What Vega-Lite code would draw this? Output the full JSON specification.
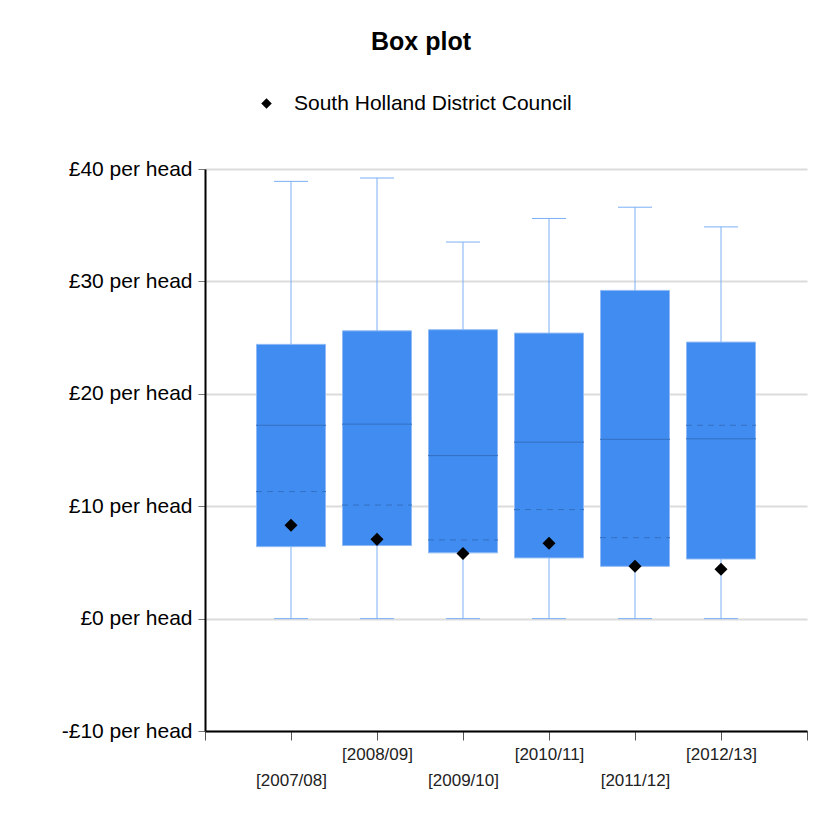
{
  "$schema": "https://vega.github.io/schema/vega-lite/v6.json",
  "autosize": {"type": "none"},
  "padding": {"left": 205, "top": 169, "right": 30, "bottom": 101},
  "width": 602,
  "height": 562,
  "background": "white",
  "title": {
    "text": "Box plot",
    "fontSize": 25,
    "fontWeight": "bold",
    "font": "Liberation Sans",
    "color": "black",
    "anchor": "middle",
    "frame": "group",
    "dx": -85,
    "offset": 38
  },
  "data": {
    "values": [
      {"idx": 1, "year": "[2007/08]", "lo": 0, "q1": 6.4, "median": 17.2, "mean": 11.3, "q3": 24.4, "hi": 38.9, "value": 8.3, "council": "South Holland District Council"},
      {"idx": 2, "year": "[2008/09]", "lo": 0, "q1": 6.5, "median": 17.3, "mean": 10.1, "q3": 25.6, "hi": 39.2, "value": 7.05, "council": "South Holland District Council"},
      {"idx": 3, "year": "[2009/10]", "lo": 0, "q1": 5.85, "median": 14.5, "mean": 7.0, "q3": 25.7, "hi": 33.5, "value": 5.8, "council": "South Holland District Council"},
      {"idx": 4, "year": "[2010/11]", "lo": 0, "q1": 5.4, "median": 15.7, "mean": 9.7, "q3": 25.4, "hi": 35.6, "value": 6.7, "council": "South Holland District Council"},
      {"idx": 5, "year": "[2011/12]", "lo": 0, "q1": 4.65, "median": 15.95, "mean": 7.2, "q3": 29.2, "hi": 36.6, "value": 4.65, "council": "South Holland District Council"},
      {"idx": 6, "year": "[2012/13]", "lo": 0, "q1": 5.3, "median": 16.0, "mean": 17.2, "q3": 24.6, "hi": 34.85, "value": 4.4, "council": "South Holland District Council"}
    ]
  },
  "encoding": {
    "x": {
      "field": "idx",
      "type": "quantitative",
      "title": null,
      "scale": {"domain": [0, 7], "nice": false, "zero": false, "padding": 0},
      "axis": {
        "values": [0, 1, 2, 3, 4, 5, 6, 7],
        "grid": false,
        "domainColor": "black",
        "domainWidth": 2,
        "tickColor": "#555555",
        "tickSize": 9,
        "labelFont": "Liberation Sans",
        "labelFontSize": 17,
        "labelColor": "#222222",
        "labelBaseline": "top",
        "labelFlush": false,
        "labelOverlap": false,
        "labelPadding": {"condition": {"test": "datum.value % 2 == 1", "value": 32}, "value": 6},
        "labelExpr": "['', '[2007/08]', '[2008/09]', '[2009/10]', '[2010/11]', '[2011/12]', '[2012/13]', ''][datum.value]"
      }
    }
  },
  "layer": [
    {
      "mark": {"type": "rule", "color": "#7AB0F5", "strokeWidth": 1},
      "encoding": {
        "y": {
          "field": "lo",
          "type": "quantitative",
          "title": null,
          "scale": {"domain": [-10, 40], "nice": false, "zero": false},
          "axis": {
            "values": [-10, 0, 10, 20, 30, 40],
            "grid": true,
            "gridColor": "#dcdcdc",
            "gridWidth": 2,
            "domainColor": "black",
            "domainWidth": 2,
            "tickColor": "#777777",
            "tickSize": 7,
            "labelFont": "Liberation Sans",
            "labelFontSize": 21,
            "labelColor": "black",
            "labelPadding": 6,
            "labelExpr": "(datum.value < 0 ? '-£' : '£') + abs(datum.value) + ' per head'"
          }
        },
        "y2": {"field": "hi"}
      }
    },
    {
      "mark": {"type": "rule", "color": "#7AB0F5", "strokeWidth": 1, "xOffset": -17, "x2Offset": 17},
      "encoding": {"x2": {"field": "idx"}, "y": {"field": "hi", "type": "quantitative"}}
    },
    {
      "mark": {"type": "rule", "color": "#7AB0F5", "strokeWidth": 1, "xOffset": -17, "x2Offset": 17},
      "encoding": {"x2": {"field": "idx"}, "y": {"field": "lo", "type": "quantitative"}}
    },
    {
      "mark": {"type": "bar", "width": 69, "fill": "#418CF0", "stroke": "#8FBAF5", "strokeWidth": 1},
      "encoding": {"y": {"field": "q1", "type": "quantitative"}, "y2": {"field": "q3"}}
    },
    {
      "mark": {"type": "rule", "color": "#3470C0", "strokeWidth": 1, "xOffset": -35, "x2Offset": 35},
      "encoding": {"x2": {"field": "idx"}, "y": {"field": "median", "type": "quantitative"}}
    },
    {
      "mark": {"type": "rule", "color": "#3470C0", "strokeWidth": 1, "strokeDash": [6, 5], "xOffset": -35, "x2Offset": 35},
      "encoding": {"x2": {"field": "idx"}, "y": {"field": "mean", "type": "quantitative"}}
    },
    {
      "mark": {"type": "point", "shape": "diamond", "filled": true, "size": 170, "opacity": 1, "strokeWidth": 0},
      "encoding": {
        "y": {"field": "value", "type": "quantitative"},
        "fill": {
          "field": "council",
          "type": "nominal",
          "scale": {"range": ["black"]},
          "legend": {
            "title": null,
            "orient": "none",
            "legendX": 51,
            "legendY": -76,
            "symbolType": "diamond",
            "symbolSize": 110,
            "symbolStrokeWidth": 0,
            "labelFont": "Liberation Sans",
            "labelFontSize": 21,
            "labelColor": "black",
            "labelOffset": 17,
            "labelLimit": 0
          }
        }
      }
    }
  ],
  "config": {
    "view": {"stroke": null}
  }
}
